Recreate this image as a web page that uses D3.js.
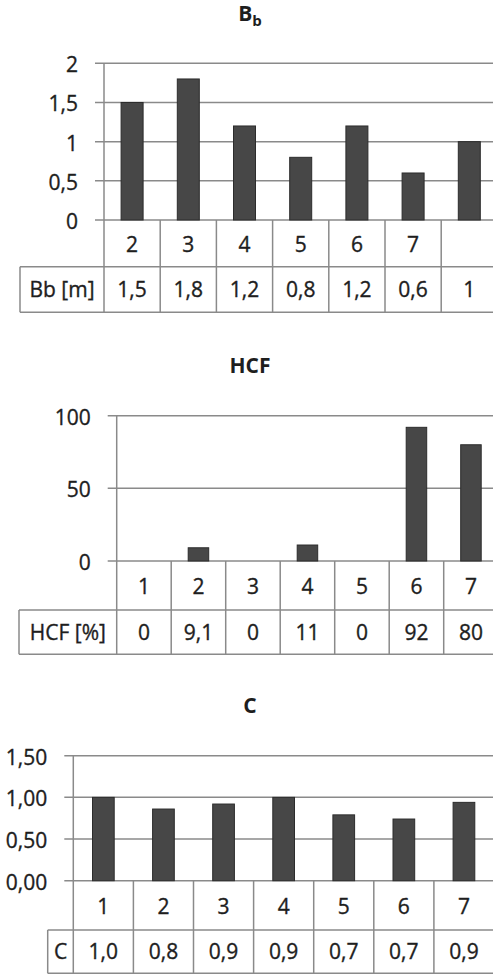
<!DOCTYPE html>
<html>
<head>
<meta charset="utf-8">
<script src="https://cdn.jsdelivr.net/npm/d3@7"></script>
<style>
  html, body { margin: 0; padding: 0; background: #fff; }
  svg { display: block; font-family: "Open Sans", sans-serif; }
  .lbl { stroke: #1e1e1e; stroke-width: 0.35px; }
</style>
</head>
<body>
<div id="chart"></div>
<script>
// chart 1 : Bb
const bbCategories = ["2", "3", "4", "5", "6", "7", ""];
const bbValues = [1.5, 1.8, 1.2, 0.8, 1.2, 0.6, 1];
const bbTableLabels = ["1,5", "1,8", "1,2", "0,8", "1,2", "0,6", "1"];
const bbTicks = [0, 0.5, 1, 1.5, 2];
const bbTickLabels = ["0", "0,5", "1", "1,5", "2"];

// chart 2 : HCF
const hcfCategories = ["1", "2", "3", "4", "5", "6", "7"];
const hcfValues = [0, 9.1, 0, 11, 0, 92, 80];
const hcfTableLabels = ["0", "9,1", "0", "11", "0", "92", "80"];
const hcfTicks = [0, 50, 100];
const hcfTickLabels = ["0", "50", "100"];

// chart 3 : C
const cCategories = ["1", "2", "3", "4", "5", "6", "7"];
const cValues = [1.0, 0.86, 0.92, 1.0, 0.79, 0.74, 0.94];
const cTableLabels = ["1,0", "0,8", "0,9", "0,9", "0,7", "0,7", "0,9"];
const cTicks = [0, 0.5, 1, 1.5];
const cTickLabels = ["0,00", "0,50", "1,00", "1,50"];

const W = 493, H = 976;
const lineColor = "#8a8a8a";
const textColor = "#1e1e1e";

var svg = d3.select("#chart")
  .append("svg")
  .attr("width", W)
  .attr("height", H);

// one panel = title + bar plot + 2 row table underneath
const drawPanel = (p) => {
  var g = svg.append("g");

  // title
  var t = g.append("text")
    .attr("x", 250)
    .attr("y", p.titleY)
    .attr("text-anchor", "middle")
    .attr("font-weight", "bold")
    .attr("font-size", 21)
    .attr("fill", textColor);
  t.append("tspan").text(p.title);
  if (p.sub) {
    t.append("tspan")
      .attr("font-size", 15)
      .attr("dy", 5)
      .text(p.sub);
  }

  var x = d3.scaleBand()
    .domain(p.categories.map((d, i) => i))
    .range([p.left, p.left + p.cellW * p.categories.length])
    .paddingInner(0)
    .paddingOuter(0);

  var y = d3.scaleLinear()
    .domain([0, p.max])
    .range([p.y0, p.yTop]);

  // gridlines
  g.selectAll(".grid")
    .data(p.ticks)
    .enter()
    .append("line")
    .attr("x1", p.left - 9)
    .attr("x2", W + 10)
    .attr("y1", d => y(d))
    .attr("y2", d => y(d))
    .attr("stroke", lineColor)
    .attr("stroke-width", 1.5);

  // y axis labels
  var yAxis = g.append("g")
    .attr("transform", "translate(" + p.left + ",0)")
    .call(d3.axisLeft(y)
      .tickValues(p.ticks)
      .tickFormat((d, i) => p.tickLabels[i])
      .tickSize(0)
      .tickPadding(26));
  yAxis.select(".domain").remove();
  yAxis.selectAll("text")
    .attr("class", "lbl")
    .attr("font-size", 21)
    .attr("font-family", "Open Sans")
    .attr("fill", textColor)
    .attr("dy", "0.4em");

  // bars
  var bw = p.barW;
  g.selectAll(".bar")
    .data(p.values)
    .enter()
    .append("rect")
    .attr("x", (d, i) => x(i) + x.bandwidth() / 2 - bw / 2)
    .attr("y", d => y(d))
    .attr("width", bw)
    .attr("height", d => p.y0 - y(d))
    .attr("fill", "#474747")
    .attr("stroke", "#2c2c2c")
    .attr("stroke-width", 1);

  var row1 = p.row1, row2 = p.row2;

  // table lines
  var lines = [];
  // vertical axis line, from top gridline to table bottom
  lines.push([p.left, y(p.max), p.left, row2]);
  // band separators
  p.categories.forEach((c, i) => {
    var xe = x(i) + x.bandwidth();
    lines.push([xe, p.y0, xe, row2]);
  });
  // row separator + bottom, label cell
  lines.push([p.labelLeft, row1, W + 10, row1]);
  lines.push([p.labelLeft, row2, W + 10, row2]);
  lines.push([p.labelLeft, row1, p.labelLeft, row2]);

  g.selectAll(".tline")
    .data(lines)
    .enter()
    .append("line")
    .attr("x1", d => d[0])
    .attr("y1", d => d[1])
    .attr("x2", d => d[2])
    .attr("y2", d => d[3])
    .attr("stroke", lineColor)
    .attr("stroke-width", 1.5);

  // category row
  var catAxis = g.append("g")
    .attr("transform", "translate(0," + ((p.y0 + row1) / 2) + ")")
    .call(d3.axisBottom(x)
      .tickFormat((d, i) => p.categories[i])
      .tickSize(0)
      .tickPadding(0));
  catAxis.select(".domain").remove();
  catAxis.selectAll("text")
    .attr("class", "lbl")
    .attr("font-size", 21)
    .attr("font-family", "Open Sans")
    .attr("fill", textColor)
    .attr("dy", "0.4em");

  // value row
  g.selectAll(".val")
    .data(p.tableLabels)
    .enter()
    .append("text")
    .attr("class", "lbl")
    .attr("x", (d, i) => x(i) + x.bandwidth() / 2)
    .attr("y", (row1 + row2) / 2)
    .attr("dy", "0.36em")
    .attr("text-anchor", "middle")
    .attr("font-size", 21)
    .attr("fill", textColor)
    .text(d => d);

  g.append("text")
    .attr("class", "lbl")
    .attr("x", (p.labelLeft + p.left) / 2)
    .attr("y", (row1 + row2) / 2)
    .attr("dy", "0.36em")
    .attr("text-anchor", "middle")
    .attr("font-size", 21)
    .attr("fill", textColor)
    .text(p.rowLabel);
};

drawPanel({
  title: "B", sub: "b", titleY: 21,
  categories: bbCategories, values: bbValues, tableLabels: bbTableLabels,
  ticks: bbTicks, tickLabels: bbTickLabels, max: 2,
  left: 104, cellW: 56.2, y0: 220, yTop: 63.3,
  row1: 266.7, row2: 312.3, labelLeft: 20, barW: 22, rowLabel: "Bb [m]"
});

drawPanel({
  title: "HCF", titleY: 373,
  categories: hcfCategories, values: hcfValues, tableLabels: hcfTableLabels,
  ticks: hcfTicks, tickLabels: hcfTickLabels, max: 100,
  left: 116.7, cellW: 54.5, y0: 561, yTop: 415.7,
  row1: 610, row2: 654.3, labelLeft: 19, barW: 20.5, rowLabel: "HCF [%]"
});

drawPanel({
  title: "C", titleY: 713,
  categories: cCategories, values: cValues, tableLabels: cTableLabels,
  ticks: cTicks, tickLabels: cTickLabels, max: 1.5,
  left: 73.3, cellW: 60.1, y0: 880.7, yTop: 755.7,
  row1: 930, row2: 973.3, labelLeft: 47.7, barW: 21.7, rowLabel: "C"
});
</script>
</body>
</html>
